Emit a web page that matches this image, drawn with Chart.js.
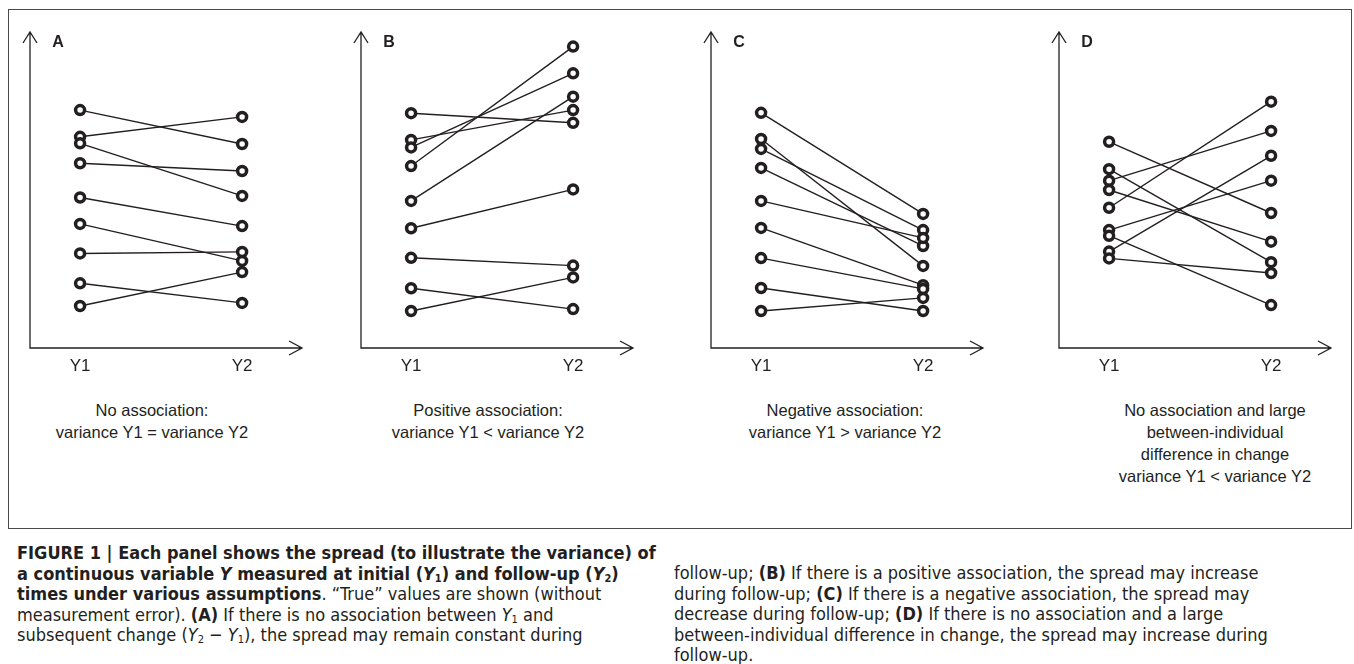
<!DOCTYPE html>
<html lang="en">
<head>
<meta charset="UTF-8">
<title>Figure 1: spread of Y at initial and follow-up times</title>
<script src="https://cdn.jsdelivr.net/npm/chart.js"></script>
<style>
  body { margin: 0; background: #fff; width: 1354px; height: 664px; position: relative; overflow: hidden;
         font-family: "Liberation Sans", Arial, sans-serif; color: #231f20; }
  #frame { position: absolute; left: 8px; top: 9px; width: 1344px; height: 520px; border: 1px solid #4a4a4a; box-sizing: border-box; }
  canvas { position: absolute; top: 20px; }
  .title { position: absolute; top: 399px; width: 320px; margin-left: -160px; text-align: center; font-size: 16.5px; line-height: 22px; }
  .caption { position: absolute; font-family: "DejaVu Sans Condensed", "Liberation Sans Narrow", "Liberation Sans", sans-serif;
             font-size: 18px; line-height: 20.5px; white-space: nowrap; }
  .caption sub { font-size: 11px; vertical-align: -2px; line-height: 0; }
</style>
</head>
<body>
  <div id="frame"></div>

  <canvas id="panelA" width="292" height="360" style="left:18px"></canvas>
  <canvas id="panelB" width="292" height="360" style="left:349px"></canvas>
  <canvas id="panelC" width="292" height="360" style="left:699px"></canvas>
  <canvas id="panelD" width="292" height="360" style="left:1047px"></canvas>

  <div class="title" style="left:152px">No association:<br>variance Y1 = variance Y2</div>
  <div class="title" style="left:488px">Positive association:<br>variance Y1 &lt; variance Y2</div>
  <div class="title" style="left:845px">Negative association:<br>variance Y1 &gt; variance Y2</div>
  <div class="title" style="left:1215px">No association and large<br>between-individual<br>difference in change<br>variance Y1 &lt; variance Y2</div>

  <div class="caption" style="left:17px; top:543px">
    <b>FIGURE 1 | Each panel shows the spread (to illustrate the variance) of</b><br>
    <b>a continuous variable <i>Y</i> measured at initial (<i>Y</i><sub>1</sub>) and follow-up (<i>Y</i><sub>2</sub>)</b><br>
    <b>times under various assumptions</b>. “True” values are shown (without<br>
    measurement error). <b>(A)</b> If there is no association between <i>Y</i><sub>1</sub> and<br>
    subsequent change (<i>Y</i><sub>2</sub> − <i>Y</i><sub>1</sub>), the spread may remain constant during
  </div>
  <div class="caption" style="left:674px; top:563px">
    follow-up; <b>(B)</b> If there is a positive association, the spread may increase<br>
    during follow-up; <b>(C)</b> If there is a negative association, the spread may<br>
    decrease during follow-up; <b>(D)</b> If there is no association and a large<br>
    between-individual difference in change, the spread may increase during<br>
    follow-up.
  </div>

<script>
  // measurement times on the x axis
  const timeLabels = ['Y1', 'Y2'];
  const panelLetters = ['A', 'B', 'C', 'D'];

  // "true" Y values per individual (0-100 scale), Y1[i] is paired with Y2[i]
  const a_y1 = [74.9, 66.3, 64.2, 57.8, 46.8, 38.3, 28.8, 19.2, 11.9];
  const a_y2 = [64.0, 72.7, 47.3, 55.3, 37.6, 26.4, 29.3, 12.9, 22.8];

  const b_y1 = [73.9, 65.3, 62.9, 56.9, 45.7, 36.9, 27.4, 17.6, 10.3];
  const b_y2 = [70.8, 74.9, 86.7, 95.3, 79.2, 49.4, 24.9, 10.9, 21.1];

  const c_y1 = [74.0, 65.6, 62.4, 56.3, 45.7, 37.0, 27.3, 17.7, 10.3];
  const c_y2 = [41.5, 24.8, 36.3, 31.2, 33.8, 18.6, 17.4, 10.3, 14.5];

  const d_y1 = [64.7, 55.9, 52.2, 49.2, 43.5, 36.3, 34.5, 29.4, 27.2];
  const d_y2 = [41.8, 26.0, 68.2, 32.6, 77.6, 52.2, 12.2, 60.2, 22.5];

  const ink = '#231f20';

  // draws the two arrow axes, the Y1/Y2 labels and the panel letter
  const arrowAxes = {
    id: 'arrowAxes',
    beforeDatasetsDraw(chart, args, opts) {
      const { ctx, chartArea: ca, scales } = chart;
      ctx.save();
      ctx.strokeStyle = ink;
      ctx.lineWidth = 1.3;
      ctx.beginPath();
      ctx.moveTo(ca.left, ca.top);
      ctx.lineTo(ca.left, ca.bottom);
      ctx.lineTo(ca.right, ca.bottom);
      ctx.moveTo(ca.left - 7, ca.top + 11);
      ctx.lineTo(ca.left, ca.top);
      ctx.lineTo(ca.left + 7, ca.top + 11);
      ctx.moveTo(ca.right - 13, ca.bottom - 7);
      ctx.lineTo(ca.right, ca.bottom);
      ctx.lineTo(ca.right - 13, ca.bottom + 7);
      ctx.stroke();

      ctx.fillStyle = ink;
      ctx.textAlign = 'center';
      ctx.textBaseline = 'middle';
      ctx.font = '17px "Liberation Sans", Arial, sans-serif';
      timeLabels.forEach((t, i) => ctx.fillText(t, scales.x.getPixelForValue(i + 1), ca.bottom + 18));
      ctx.font = 'bold 16px "Liberation Sans", Arial, sans-serif';
      ctx.fillText(opts.letter, ca.left + 28, ca.top + 11);
      ctx.restore();
    }
  };

  function makePanel(id, letter, y1, y2) {
    const circles = [];
    y1.forEach((v, i) => circles.push({ x: 1, y: v }, { x: 2, y: y2[i] }));

    const lines = y1.map((v, i) => ({
      data: [{ x: 1, y: v }, { x: 2, y: y2[i] }],
      showLine: true,
      borderColor: ink,
      borderWidth: 1.4,
      pointRadius: 0,
      order: 1
    }));

    new Chart(document.getElementById(id), {
      type: 'scatter',
      data: {
        datasets: [{
          data: circles,
          pointRadius: 4.5,
          pointBorderWidth: 3.5,
          pointBackgroundColor: '#fff',
          pointBorderColor: ink,
          order: 0
        }, ...lines]
      },
      options: {
        responsive: false,
        animation: false,
        layout: { padding: { left: 12, top: 12, right: 3, bottom: 32 } },
        scales: {
          x: { type: 'linear', display: false, min: 1 - 51 / 165, max: 1 + 226 / 165 },
          y: { type: 'linear', display: false, min: -1.6, max: 100 }
        },
        plugins: {
          legend: { display: false },
          tooltip: { enabled: false },
          arrowAxes: { letter: letter }
        }
      },
      plugins: [arrowAxes]
    });
  }

  makePanel('panelA', panelLetters[0], a_y1, a_y2);
  makePanel('panelB', panelLetters[1], b_y1, b_y2);
  makePanel('panelC', panelLetters[2], c_y1, c_y2);
  makePanel('panelD', panelLetters[3], d_y1, d_y2);
</script>
</body>
</html>
